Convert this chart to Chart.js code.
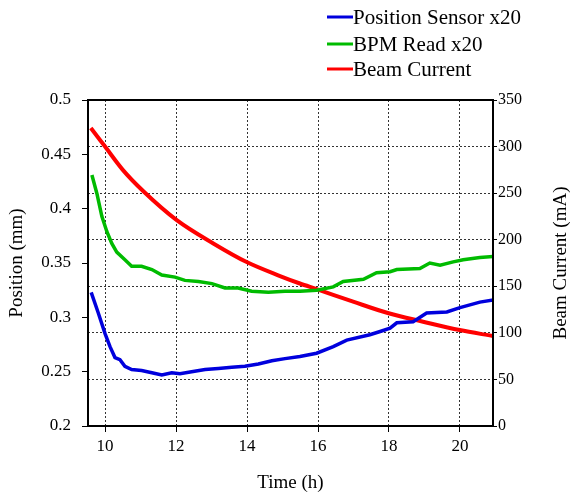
<!DOCTYPE html>
<html>
<head>
<meta charset="utf-8">
<script src="https://cdn.jsdelivr.net/npm/chart.js@4"></script>
<style>
  html, body { margin: 0; padding: 0; background: #fff; }
  #wrap { width: 571px; height: 496px; }
</style>
</head>
<body>
<div id="wrap"><canvas id="chart"></canvas></div>
<script>
"use strict";

// Position Sensor x20 (left axis, mm)
var sensorTime = [9.61, 9.81, 10.0, 10.14, 10.28, 10.42, 10.56, 10.75, 11.03, 11.32, 11.6, 11.88, 12.11, 12.44, 12.82, 13.19, 13.57, 13.94, 14.32, 14.7, 15.07, 15.49, 15.96, 16.43, 16.81, 17.46, 17.75, 18.03, 18.22, 18.68, 19.06, 19.63, 20.0, 20.56, 20.94];
var sensorPos = [0.323, 0.304, 0.285, 0.273, 0.263, 0.261, 0.255, 0.252, 0.251, 0.249, 0.247, 0.249, 0.248, 0.250, 0.252, 0.253, 0.254, 0.255, 0.257, 0.260, 0.262, 0.264, 0.267, 0.273, 0.279, 0.284, 0.287, 0.290, 0.295, 0.296, 0.304, 0.305, 0.309, 0.314, 0.316];

// BPM Read x20 (left axis, mm)
var bpmTime = [9.63, 9.77, 9.91, 10.05, 10.19, 10.33, 10.56, 10.75, 11.03, 11.32, 11.6, 11.97, 12.25, 12.63, 13.01, 13.38, 13.75, 14.13, 14.6, 15.07, 15.49, 15.96, 16.43, 16.71, 17.28, 17.65, 18.03, 18.22, 18.87, 19.15, 19.44, 19.81, 20.09, 20.56, 20.94];
var bpmPos = [0.431, 0.414, 0.393, 0.379, 0.368, 0.360, 0.353, 0.347, 0.347, 0.344, 0.339, 0.337, 0.334, 0.333, 0.331, 0.327, 0.327, 0.324, 0.323, 0.324, 0.324, 0.325, 0.328, 0.333, 0.335, 0.341, 0.342, 0.344, 0.345, 0.350, 0.348, 0.351, 0.353, 0.355, 0.356];

// Beam Current (right axis, mA)
var beamTime = [9.6, 10.0, 10.5, 11.08, 12.02, 13.05, 13.99, 14.93, 15.49, 15.96, 16.99, 17.99, 18.96, 19.99, 20.93];
var beamCurrent = [320, 300, 275, 252, 221, 196, 176, 161, 153, 147, 133.5, 121, 112, 103, 96.6];

var xTicks = [10, 12, 14, 16, 18, 20];
var posTicks = [0.2, 0.25, 0.3, 0.35, 0.4, 0.45, 0.5];
var currentTicks = [0, 50, 100, 150, 200, 250, 300, 350];

var serif = "'Liberation Serif', 'DejaVu Serif', serif";

function ToPoints(xs, ys) {
	return xs.map(function (x, i) { return { x: x, y: ys[i] }; });
}

function FixTicks(list) {
	return function (scale) {
		scale.ticks = list.map(function (v) { return { value: v }; });
	};
}

// legend drawn as a column at the top right, the box round the plot,
// and the right axis title reading bottom to top
var frameAndLegend = {
	id: 'frameAndLegend',
	afterDraw: function (chart) {
		var ctx = chart.ctx;
		var area = chart.chartArea;
		ctx.save();
		ctx.strokeStyle = '#000';
		ctx.lineWidth = 2;
		ctx.strokeRect(area.left, area.top, area.right - area.left, area.bottom - area.top);

		var rows = [17, 44, 69];
		ctx.font = "21px " + serif;
		ctx.textBaseline = 'middle';
		ctx.fillStyle = '#000';
		chart.data.datasets.forEach(function (ds, i) {
			ctx.strokeStyle = ds.borderColor;
			ctx.lineWidth = 3;
			ctx.beginPath();
			ctx.moveTo(327, rows[i]);
			ctx.lineTo(353, rows[i]);
			ctx.stroke();
			ctx.fillText(ds.label, 353, rows[i] + 1);
		});

		ctx.font = "19px " + serif;
		ctx.textAlign = 'center';
		ctx.translate(561, (area.top + area.bottom) / 2);
		ctx.rotate(-Math.PI / 2);
		ctx.fillText('Beam Current (mA)', 0, 0);
		ctx.restore();
	}
};

var gridStyle = {
	color: '#333',
	lineWidth: 1,
	tickColor: '#000'
};

const context = document.getElementById('chart');
const myChart = new Chart(context, {
	type: 'line',
	data: {
		datasets: [{
			label: 'Position Sensor x20',
			data: ToPoints(sensorTime, sensorPos),
			borderColor: '#0000dd',
			borderWidth: 3.5,
			yAxisID: 'yPos'
		}, {
			label: 'BPM Read x20',
			data: ToPoints(bpmTime, bpmPos),
			borderColor: '#00bb00',
			borderWidth: 3.5,
			yAxisID: 'yPos'
		}, {
			label: 'Beam Current',
			data: ToPoints(beamTime, beamCurrent),
			borderColor: '#ff0000',
			borderWidth: 4,
			cubicInterpolationMode: 'monotone',
			yAxisID: 'yCur'
		}]
	},
	options: {
		responsive: true,
		maintainAspectRatio: false,
		animation: false,
		layout: { padding: { top: 100, left: 0, right: 0, bottom: 0 } },
		elements: { point: { radius: 0 }, line: { tension: 0 } },
		plugins: {
			legend: { display: false },
			tooltip: { enabled: false }
		},
		scales: {
			x: {
				type: 'linear',
				min: 9.52,
				max: 20.93,
				afterBuildTicks: FixTicks(xTicks),
				afterFit: function (s) { s.height = 70; },
				border: { display: false, dash: [2, 2] },
				grid: Object.assign({ tickLength: 6 }, gridStyle),
				ticks: { color: '#000', padding: 4, font: { family: serif, size: 17 } },
				title: { display: true, text: 'Time (h)', color: '#000', padding: { top: 0, bottom: 2 }, font: { family: serif, size: 19 } }
			},
			yPos: {
				type: 'linear',
				position: 'left',
				min: 0.2,
				max: 0.5,
				afterBuildTicks: FixTicks(posTicks),
				afterFit: function (s) { s.width = 88; },
				border: { display: false },
				grid: { drawOnChartArea: false, tickLength: 6, tickColor: '#000' },
				ticks: {
					color: '#000', padding: 11, font: { family: serif, size: 17 },
					callback: function (v) { return String(Math.round(v * 100) / 100); }
				},
				title: { display: true, text: 'Position (mm)', color: '#000', padding: { top: 6, bottom: 0 }, font: { family: serif, size: 19 } }
			},
			yCur: {
				type: 'linear',
				position: 'right',
				min: 0,
				max: 350,
				afterBuildTicks: FixTicks(currentTicks),
				afterFit: function (s) { s.width = 78; },
				border: { display: false, dash: [2, 2] },
				grid: Object.assign({ tickLength: 4 }, gridStyle),
				ticks: { color: '#000', padding: 1, font: { family: serif, size: 16 } },
				title: { display: false }
			}
		}
	},
	plugins: [frameAndLegend]
});
</script>
</body>
</html>
